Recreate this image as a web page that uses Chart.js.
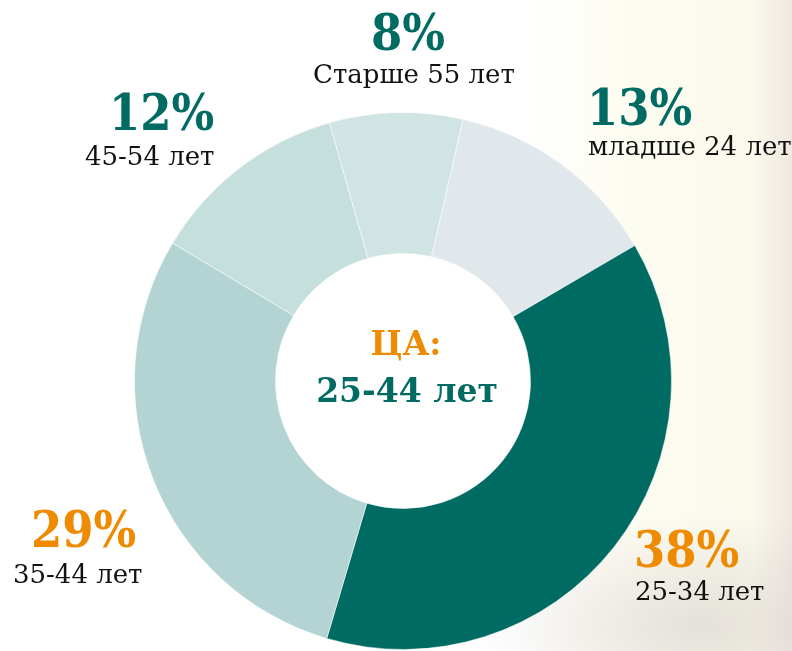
<!DOCTYPE html>
<html lang="ru">
<head>
    <meta charset="UTF-8">
    <title>ЦА по возрасту</title>
    <script src="https://cdn.jsdelivr.net/npm/chart.js@4.4.2/dist/chart.umd.min.js"></script>
    <style>
        html, body {
            margin: 0;
            padding: 0;
        }
        body {
            width: 792px;
            height: 651px;
            overflow: hidden;
            position: relative;
            background:
                radial-gradient(ellipse 230px 110px at 700px 625px, rgba(210, 204, 202, 0.55), rgba(210, 204, 202, 0) 100%),
                linear-gradient(to right, #ffffff 0%, #ffffff 66%, #fdfcf1 80%, #fbf9ec 95%, #eee8e1 100%);
        }
        #chart {
            position: absolute;
            left: 0;
            top: 0;
        }
        .lbl {
            position: absolute;
            line-height: 1;
            white-space: nowrap;
            font-family: "DejaVu Serif", serif;
        }
        .pct {
            font-size: 50px;
            font-weight: bold;
            font-stretch: condensed;
        }
        .sub {
            font-size: 26px;
            color: #111;
        }
        .center {
            font-size: 33px;
            font-weight: bold;
            transform: translateX(-50%);
        }
    </style>
</head>
<body>
    <canvas id="chart" width="792" height="651"></canvas>
    <div id="labels"></div>

    <script>
        // --- Data ---
        const groups = ['младше 24 лет', '25-34 лет', '35-44 лет', '45-54 лет', 'Старше 55 лет'];
        const shares = [13, 38, 29, 12, 8];
        const sliceColors = ['#e1e8eb', '#006b63', '#b4d3d3', '#c5dfdd', '#d0e4e3'];
        const centerTitle = 'ЦА:';
        const centerValue = '25-44 лет';

        // --- Label layout (left / top of each block, in px) ---
        const TEAL = '#006b63';
        const ORANGE = '#ef8b00';
        const pctColors = [TEAL, ORANGE, ORANGE, TEAL, TEAL];
        const pctPos = [[587, 83], [634, 525], [31, 505], [109, 88], [371, 8]];
        const subPos = [[588, 133], [635, 578], [13, 561], [85, 143], [313, 61]];

        new Chart(document.getElementById('chart'), {
            type: 'doughnut',
            data: {
                labels: groups,
                datasets: [{
                    data: shares,
                    backgroundColor: sliceColors,
                    borderColor: 'rgba(255,255,255,0.5)',
                    borderWidth: 1
                }]
            },
            options: {
                responsive: false,
                animation: false,
                rotation: 12.9,
                cutout: '47.5%',
                layout: {
                    padding: { left: 134, right: 120, top: 112, bottom: 1 }
                },
                plugins: {
                    legend: { display: false },
                    tooltip: { enabled: false }
                }
            }
        });

        // --- Text labels ---
        const box = document.getElementById('labels');
        function addLabel(text, cls, color, left, top) {
            const el = document.createElement('div');
            el.className = 'lbl ' + cls;
            el.textContent = text;
            el.style.color = color;
            el.style.left = left + 'px';
            el.style.top = top + 'px';
            box.appendChild(el);
        }

        shares.forEach((v, i) => {
            addLabel(v + '%', 'pct', pctColors[i], pctPos[i][0], pctPos[i][1]);
            addLabel(groups[i], 'sub', '#111', subPos[i][0], subPos[i][1]);
        });
        addLabel(centerTitle, 'center', ORANGE, 406, 327);
        addLabel(centerValue, 'center', TEAL, 407, 374);
    </script>
</body>
</html>
